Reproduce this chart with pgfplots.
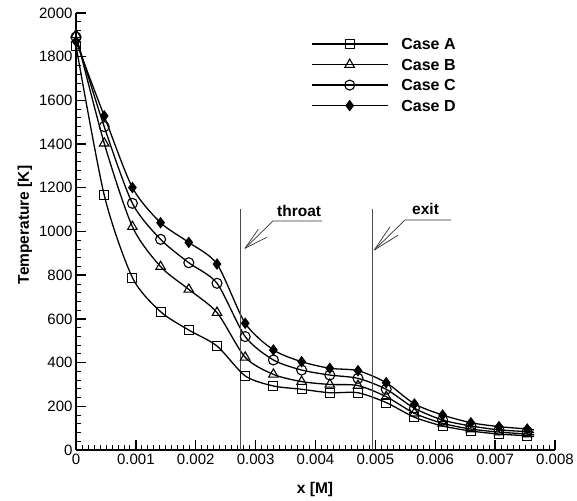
\documentclass[border=0pt]{standalone}
\usepackage{fontspec}
\setmainfont{Liberation Sans}
\usepackage{pgfplots}
\pgfplotsset{compat=1.18}
\begin{document}
\begin{tikzpicture}
\path[use as bounding box] (0,0) rectangle (577pt,500pt);
\begin{axis}[
 at={(76pt,50pt)}, anchor=south west,
 scale only axis, width=479pt, height=437pt,
 xmin=0, xmax=0.008, ymin=0, ymax=2000,
 axis lines=left, axis line style={-, line width=1.4pt},
 tick align=inside, xtick pos=left, ytick pos=left,
 xtick={0,0.001,0.002,0.003,0.004,0.005,0.006,0.007,0.008},
 xticklabels={0,0.001,0.002,0.003,0.004,0.005,0.006,0.007,0.008},
 ytick={0,200,400,600,800,1000,1200,1400,1600,1800,2000},
 minor x tick num=9, minor y tick num=4,
 major tick length=10pt, minor tick length=5pt,
 every major tick/.append style={line width=1.4pt, black},
 every minor tick/.append style={line width=0.8pt, black},
 scaled x ticks=false,
 /pgf/number format/1000 sep={},
 /pgf/number format/assume math mode=true,
 tick label style={font=\fontsize{15}{18}\selectfont},
 xlabel={x [M]}, ylabel={Temperature [K]},
 label style={font=\fontsize{15.5}{18}\selectfont\bfseries},
 xlabel style={at={(axis description cs:0.499,-0.0915)},anchor=center},
 ylabel style={at={(axis description cs:-0.1065,0.515)},anchor=center},
 legend style={at={(axis description cs:0.484,0.947)}, anchor=north west,
   draw=none, fill=none, font=\fontsize{16}{19}\selectfont\bfseries,
   row sep=9pt, column sep=0pt,
   nodes={inner sep=0pt, text height=11.5pt, text depth=0pt}},
 legend cell align=left,
 legend image code/.code={\draw[line width=1.3pt] (0pt,0pt) -- (76pt,0pt); \draw[line width=1pt] plot[only marks] coordinates {(38pt,0pt)};},
 every axis plot/.append style={line width=1.3pt, black, smooth, tension=0.45},
]
\addplot[mark=square, mark size=4.5pt, mark options={fill=white, line width=1.1pt}, mark indices={1,2,3,4,5,6,7,8,9,10,11,12,13,14,15,16,17}] table {
x y
0 1850
0.000471 1167
0.000942 789
0.001413 633
0.001884 549
0.002355 476
0.002826 339
0.003297 293
0.003768 278
0.004239 262
0.00471 262
0.005181 217
0.005652 150
0.006123 110
0.006594 87
0.007065 73
0.007536 65
0.00765 62
};
\addlegendentry{\hspace{13pt}Case A}
\addplot[mark=triangle, mark size=5.5pt, mark options={fill=white, line width=1.1pt}, mark indices={1,2,3,4,5,6,7,8,9,10,11,12,13,14,15,16,17}] table {
x y
0 1900
0.000471 1404
0.000942 1022
0.001413 839
0.001884 735
0.002355 629
0.002826 424
0.003297 346
0.003768 313
0.004239 300
0.00471 295
0.005181 244
0.005652 168
0.006123 122
0.006594 96
0.007065 82
0.007536 73
0.00765 70
};
\addlegendentry{\hspace{13pt}Case B}
\addplot[mark=o, mark size=5pt, mark options={fill=white, line width=1.1pt}, mark indices={1,2,3,4,5,6,7,8,9,10,11,12,13,14,15,16,17}] table {
x y
0 1890
0.000471 1480
0.000942 1129
0.001413 964
0.001884 857
0.002355 763
0.002826 519
0.003297 412
0.003768 366
0.004239 343
0.00471 328
0.005181 278
0.005652 191
0.006123 137
0.006594 110
0.007065 92
0.007536 84
0.00765 80
};
\addlegendentry{\hspace{13pt}Case C}
\addplot[mark=diamond*, mark size=5pt, mark options={fill=black, line width=1pt}, mark indices={1,2,3,4,5,6,7,8,9,10,11,12,13,14,15,16,17}] table {
x y
0 1870
0.000471 1529
0.000942 1201
0.001413 1040
0.001884 950
0.002355 851
0.002826 580
0.003297 458
0.003768 404
0.004239 374
0.00471 363
0.005181 308
0.005652 211
0.006123 160
0.006594 125
0.007065 107
0.007536 96
0.00765 92
};
\addlegendentry{\hspace{13pt}Case D}
\draw[gray!60!black, line width=0.7pt] (axis cs:0.00275,0) -- (axis cs:0.00275,1105);
\draw[gray!60!black, line width=0.7pt] (axis cs:0.00495,0) -- (axis cs:0.00495,1105);
\end{axis}
% annotations
\begin{scope}[gray!40!black, line width=0.7pt]
\draw (322pt,279pt) -- (273pt,279pt) -- (245pt,251.7pt);
\draw (245pt,251.7pt) -- (258.3pt,270.7pt);
\draw (245pt,251.7pt) -- (266.7pt,262.7pt);
\draw (451pt,280pt) -- (405pt,280pt) -- (374.3pt,250pt);
\draw (374.3pt,250pt) -- (390pt,273.3pt);
\draw (374.3pt,250pt) -- (398.3pt,265pt);
\end{scope}
\node[anchor=base west, inner sep=0pt, font=\fontsize{15.5}{18}\selectfont\bfseries] at (277pt,283pt) {throat};
\node[anchor=base west, inner sep=0pt, font=\fontsize{15.5}{18}\selectfont\bfseries] at (412pt,285pt) {exit};
\end{tikzpicture}
\end{document}
